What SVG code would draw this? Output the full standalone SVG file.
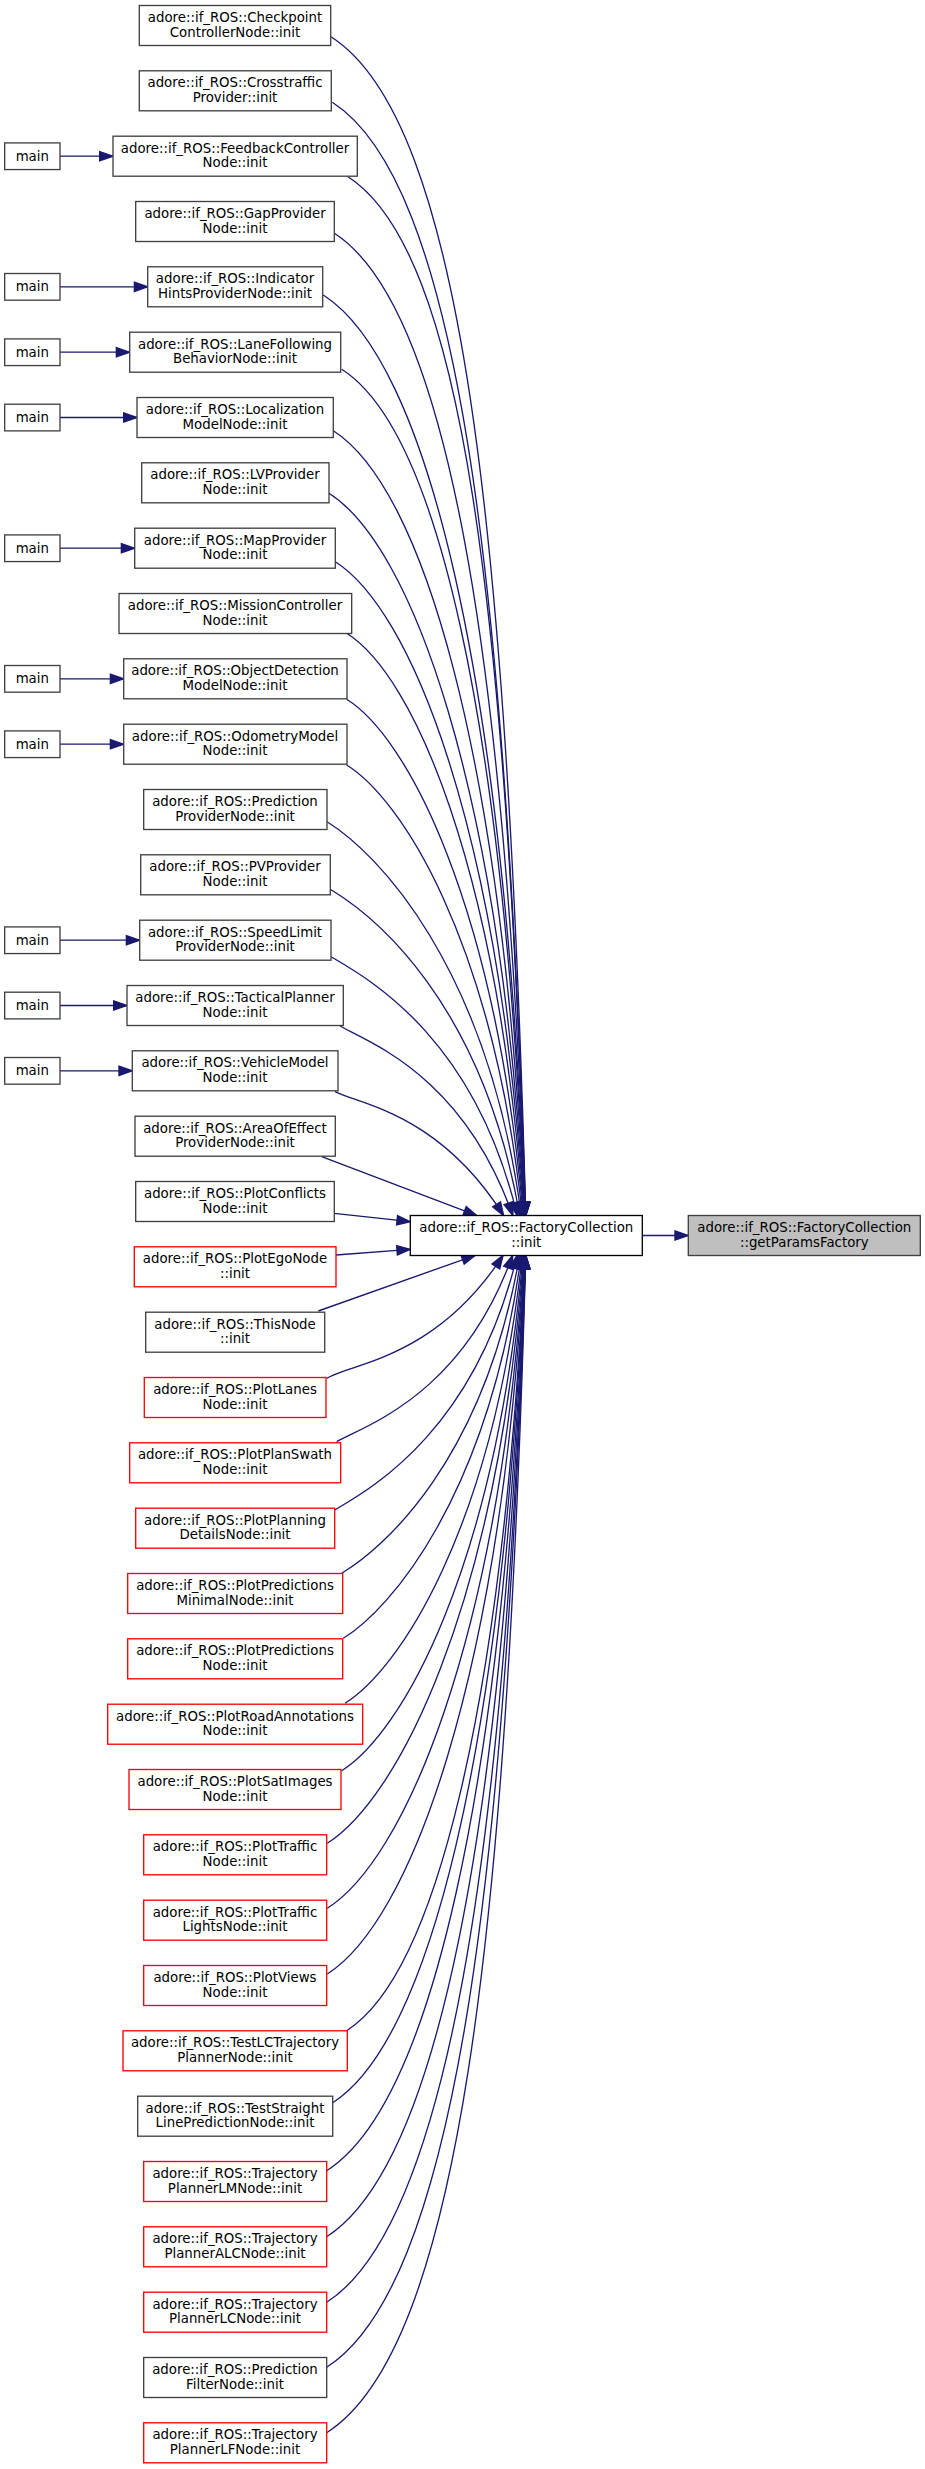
<svg xmlns="http://www.w3.org/2000/svg" width="925" height="2469" viewBox="0 0 925 2469">
<style>
.e{fill:none;stroke:#191970;stroke-width:1.33;marker-end:url(#ah)}
.n rect{fill:#fff;stroke:#404040;stroke-width:1.33}
.r rect{stroke:#ff0000}
.fc rect{stroke:#000}
.cur rect{fill:#bfbfbf}
text{font-family:"DejaVu Sans","Liberation Sans",sans-serif;font-size:13.33px;text-anchor:middle;fill:#000}
</style>
<defs>
<marker id="ah" markerWidth="16" markerHeight="12" refX="13.33" refY="4.67" orient="auto" markerUnits="userSpaceOnUse" overflow="visible">
<path d="M0,0 L13.33,4.67 L0,9.33 Z" fill="#191970" stroke="#191970" stroke-width="1.33"/>
</marker>
</defs>
<rect width="925" height="2469" fill="#fff"/>
<g id="edges">
<path class="e" d="M331,36.7 C461.8,120.6 506.5,523 525.8,1215.7"/>
<path class="e" d="M332.3,102.3 C455.9,181.7 505.1,560.6 525.7,1215.7"/>
<path class="e" d="M348,176.7 C463.3,250.7 505.3,604.7 525.6,1215.7"/>
<path class="e" d="M334.3,233.3 C443.9,303.4 504.3,635.6 525.5,1215.7"/>
<path class="e" d="M323.3,295 C426.5,361 503.4,669.4 525.3,1215.7"/>
<path class="e" d="M341.7,369.3 C436.7,429.8 502.3,713.9 525.1,1215.7"/>
<path class="e" d="M333.3,430.7 C421.9,487.1 501.2,747.7 524.9,1215.7"/>
<path class="e" d="M329,493.3 C411.2,545.4 499.6,782.4 524.6,1215.7"/>
<path class="e" d="M335.3,561.7 C410.1,609 498.1,821.7 524.3,1215.7"/>
<path class="e" d="M346.7,633.3 C413.6,675.5 496.7,863.7 523.8,1215.7"/>
<path class="e" d="M346.7,699.3 C406.8,737 494.6,900.4 523.3,1215.7"/>
<path class="e" d="M346.7,765 C400.1,798.2 492.2,936.7 522.5,1215.7"/>
<path class="e" d="M327,821.7 C375.6,851.7 487.3,963.2 521.4,1215.7"/>
<path class="e" d="M330.3,889.3 C372.3,914.8 482.2,1000.1 519.8,1215.7"/>
<path class="e" d="M331,956.7 C366.7,977.9 474.4,1035.7 517.3,1215.7"/>
<path class="e" d="M340,1026 C369,1042.5 463.2,1075.3 512.9,1215.7"/>
<path class="e" d="M335,1091.7 C359.1,1104.2 439,1112.9 503.7,1215.7"/>
<path class="e" d="M321.7,1156.7 L477,1215.7"/>
<path class="e" d="M334.3,1213.3 L410.3,1221.7"/>
<path class="e" d="M336,1255 L410.3,1249.3"/>
<path class="e" d="M318.3,1311 L475.2,1255.3"/>
<path class="e" d="M326.7,1378.3 C350.2,1363.1 435.2,1359.9 503.1,1255.3"/>
<path class="e" d="M336.7,1441.7 C365.7,1425.3 462.2,1395.2 512.6,1255.3"/>
<path class="e" d="M334.7,1510 C369.7,1489.3 474.5,1431.9 517.2,1255.3"/>
<path class="e" d="M341.7,1573.3 C382.2,1548.7 483,1463.5 519.7,1255.3"/>
<path class="e" d="M343.3,1638.3 C390.1,1609.5 488.1,1497.9 521.3,1255.3"/>
<path class="e" d="M345,1703.3 C398.1,1670.2 491.7,1533 522.4,1255.3"/>
<path class="e" d="M341.7,1770.7 C401.8,1733 494.5,1570.9 523.2,1255.3"/>
<path class="e" d="M327.3,1843.3 C395.5,1800.3 496.2,1613.8 523.8,1255.3"/>
<path class="e" d="M327.3,1908.3 C402.3,1860.9 498.1,1650 524.3,1255.3"/>
<path class="e" d="M327.3,1974 C409.1,1922.1 499.7,1686.9 524.6,1255.3"/>
<path class="e" d="M346.7,2030.7 C433.9,1975.1 501.6,1716.1 524.9,1255.3"/>
<path class="e" d="M332.7,2102.7 C428,2042 502.2,1758.8 525.1,1255.3"/>
<path class="e" d="M326.7,2170.7 C429.3,2105.1 503.5,1798.2 525.3,1255.3"/>
<path class="e" d="M326.7,2236.7 C436.4,2166.5 504.2,1835.7 525.5,1255.3"/>
<path class="e" d="M326.7,2302.3 C443.3,2227.5 505.1,1873.1 525.6,1255.3"/>
<path class="e" d="M326.7,2367.3 C450.3,2287.9 505.1,1910.2 525.7,1255.3"/>
<path class="e" d="M326.7,2432.7 C457.3,2348.9 506.5,1947.6 525.8,1255.3"/>
<path class="e" d="M642.3,1235.5 L688.3,1235.5"/>
<path class="e" d="M60,156.2 L113,156.2"/>
<path class="e" d="M60,286.8 L147.7,286.8"/>
<path class="e" d="M60,352.2 L129.7,352.2"/>
<path class="e" d="M60,417.5 L137,417.5"/>
<path class="e" d="M60,548.2 L134.7,548.2"/>
<path class="e" d="M60,678.8 L123.7,678.8"/>
<path class="e" d="M60,744.2 L123.7,744.2"/>
<path class="e" d="M60,940.2 L139.7,940.2"/>
<path class="e" d="M60,1005.5 L127,1005.5"/>
<path class="e" d="M60,1070.8 L132.3,1070.8"/>
</g>
<g id="n0" class="n"><rect x="139.3" y="5.5" width="191.4" height="40"/><text x="235" y="22">adore::if_ROS::Checkpoint</text><text x="235" y="36.7">ControllerNode::init</text></g>
<g id="n1" class="n"><rect x="139.3" y="70.8" width="192" height="40"/><text x="235" y="87.3">adore::if_ROS::Crosstraffic</text><text x="235" y="102">Provider::init</text></g>
<g id="n2" class="n"><rect x="113" y="136.2" width="244.3" height="40"/><text x="235" y="152.7">adore::if_ROS::FeedbackController</text><text x="235" y="167.4">Node::init</text></g>
<g id="n3" class="n"><rect x="135.7" y="201.5" width="198.6" height="40"/><text x="235" y="218">adore::if_ROS::GapProvider</text><text x="235" y="232.7">Node::init</text></g>
<g id="n4" class="n"><rect x="147.7" y="266.8" width="175" height="40"/><text x="235" y="283.3">adore::if_ROS::Indicator</text><text x="235" y="298">HintsProviderNode::init</text></g>
<g id="n5" class="n"><rect x="129.7" y="332.2" width="211" height="40"/><text x="235" y="348.7">adore::if_ROS::LaneFollowing</text><text x="235" y="363.4">BehaviorNode::init</text></g>
<g id="n6" class="n"><rect x="137" y="397.5" width="196.3" height="40"/><text x="235" y="414">adore::if_ROS::Localization</text><text x="235" y="428.7">ModelNode::init</text></g>
<g id="n7" class="n"><rect x="141.7" y="462.8" width="187.3" height="40"/><text x="235" y="479.3">adore::if_ROS::LVProvider</text><text x="235" y="494">Node::init</text></g>
<g id="n8" class="n"><rect x="134.7" y="528.2" width="200.6" height="40"/><text x="235" y="544.7">adore::if_ROS::MapProvider</text><text x="235" y="559.4">Node::init</text></g>
<g id="n9" class="n"><rect x="119" y="593.5" width="232.7" height="40"/><text x="235" y="610">adore::if_ROS::MissionController</text><text x="235" y="624.7">Node::init</text></g>
<g id="n10" class="n"><rect x="123.7" y="658.8" width="223.3" height="40"/><text x="235" y="675.3">adore::if_ROS::ObjectDetection</text><text x="235" y="690">ModelNode::init</text></g>
<g id="n11" class="n"><rect x="123.7" y="724.2" width="223.3" height="40"/><text x="235" y="740.7">adore::if_ROS::OdometryModel</text><text x="235" y="755.4">Node::init</text></g>
<g id="n12" class="n"><rect x="143.7" y="789.5" width="183.3" height="40"/><text x="235" y="806">adore::if_ROS::Prediction</text><text x="235" y="820.7">ProviderNode::init</text></g>
<g id="n13" class="n"><rect x="140.7" y="854.8" width="189.6" height="40"/><text x="235" y="871.3">adore::if_ROS::PVProvider</text><text x="235" y="886">Node::init</text></g>
<g id="n14" class="n"><rect x="139.7" y="920.2" width="191.3" height="40"/><text x="235" y="936.7">adore::if_ROS::SpeedLimit</text><text x="235" y="951.4">ProviderNode::init</text></g>
<g id="n15" class="n"><rect x="127" y="985.5" width="216.3" height="40"/><text x="235" y="1002">adore::if_ROS::TacticalPlanner</text><text x="235" y="1016.7">Node::init</text></g>
<g id="n16" class="n"><rect x="132.3" y="1050.8" width="205.7" height="40"/><text x="235" y="1067.3">adore::if_ROS::VehicleModel</text><text x="235" y="1082">Node::init</text></g>
<g id="n17" class="n"><rect x="135" y="1116.2" width="200.3" height="40"/><text x="235" y="1132.7">adore::if_ROS::AreaOfEffect</text><text x="235" y="1147.4">ProviderNode::init</text></g>
<g id="n18" class="n"><rect x="135.7" y="1181.5" width="198.6" height="40"/><text x="235" y="1198">adore::if_ROS::PlotConflicts</text><text x="235" y="1212.7">Node::init</text></g>
<g id="n19" class="n r"><rect x="134.3" y="1246.8" width="201.7" height="40"/><text x="235" y="1263.3">adore::if_ROS::PlotEgoNode</text><text x="235" y="1278">::init</text></g>
<g id="n20" class="n"><rect x="145.7" y="1312.2" width="179" height="40"/><text x="235" y="1328.7">adore::if_ROS::ThisNode</text><text x="235" y="1343.4">::init</text></g>
<g id="n21" class="n r"><rect x="144.3" y="1377.5" width="181.7" height="40"/><text x="235" y="1394">adore::if_ROS::PlotLanes</text><text x="235" y="1408.7">Node::init</text></g>
<g id="n22" class="n r"><rect x="129.7" y="1442.8" width="211" height="40"/><text x="235" y="1459.3">adore::if_ROS::PlotPlanSwath</text><text x="235" y="1474">Node::init</text></g>
<g id="n23" class="n r"><rect x="135.7" y="1508.2" width="199" height="40"/><text x="235" y="1524.7">adore::if_ROS::PlotPlanning</text><text x="235" y="1539.4">DetailsNode::init</text></g>
<g id="n24" class="n r"><rect x="127.7" y="1573.5" width="215" height="40"/><text x="235" y="1590">adore::if_ROS::PlotPredictions</text><text x="235" y="1604.7">MinimalNode::init</text></g>
<g id="n25" class="n r"><rect x="127.7" y="1638.8" width="215" height="40"/><text x="235" y="1655.3">adore::if_ROS::PlotPredictions</text><text x="235" y="1670">Node::init</text></g>
<g id="n26" class="n r"><rect x="107.7" y="1704.2" width="255" height="40"/><text x="235" y="1720.7">adore::if_ROS::PlotRoadAnnotations</text><text x="235" y="1735.4">Node::init</text></g>
<g id="n27" class="n r"><rect x="129" y="1769.5" width="212" height="40"/><text x="235" y="1786">adore::if_ROS::PlotSatImages</text><text x="235" y="1800.7">Node::init</text></g>
<g id="n28" class="n r"><rect x="143.7" y="1834.8" width="183" height="40"/><text x="235" y="1851.3">adore::if_ROS::PlotTraffic</text><text x="235" y="1866">Node::init</text></g>
<g id="n29" class="n r"><rect x="143.7" y="1900.2" width="183" height="40"/><text x="235" y="1916.7">adore::if_ROS::PlotTraffic</text><text x="235" y="1931.4">LightsNode::init</text></g>
<g id="n30" class="n r"><rect x="143.7" y="1965.5" width="183" height="40"/><text x="235" y="1982">adore::if_ROS::PlotViews</text><text x="235" y="1996.7">Node::init</text></g>
<g id="n31" class="n r"><rect x="123" y="2030.8" width="224.3" height="40"/><text x="235" y="2047.3">adore::if_ROS::TestLCTrajectory</text><text x="235" y="2062">PlannerNode::init</text></g>
<g id="n32" class="n"><rect x="137.7" y="2096.2" width="195" height="40"/><text x="235" y="2112.7">adore::if_ROS::TestStraight</text><text x="235" y="2127.4">LinePredictionNode::init</text></g>
<g id="n33" class="n r"><rect x="143.7" y="2161.5" width="183" height="40"/><text x="235" y="2178">adore::if_ROS::Trajectory</text><text x="235" y="2192.7">PlannerLMNode::init</text></g>
<g id="n34" class="n r"><rect x="143.7" y="2226.8" width="183" height="40"/><text x="235" y="2243.3">adore::if_ROS::Trajectory</text><text x="235" y="2258">PlannerALCNode::init</text></g>
<g id="n35" class="n r"><rect x="143.7" y="2292.2" width="183" height="40"/><text x="235" y="2308.7">adore::if_ROS::Trajectory</text><text x="235" y="2323.4">PlannerLCNode::init</text></g>
<g id="n36" class="n"><rect x="143.7" y="2357.5" width="183" height="40"/><text x="235" y="2374">adore::if_ROS::Prediction</text><text x="235" y="2388.7">FilterNode::init</text></g>
<g id="n37" class="n r"><rect x="143.7" y="2422.8" width="183" height="40"/><text x="235" y="2439.3">adore::if_ROS::Trajectory</text><text x="235" y="2454">PlannerLFNode::init</text></g>
<g id="fc" class="n fc"><rect x="410.3" y="1215.5" width="232" height="40"/><text x="526.3" y="1232">adore::if_ROS::FactoryCollection</text><text x="526.3" y="1246.7">::init</text></g>
<g id="gpf" class="n cur"><rect x="688.3" y="1215.5" width="232" height="40"/><text x="804.3" y="1232">adore::if_ROS::FactoryCollection</text><text x="804.3" y="1246.7">::getParamsFactory</text></g>
<g id="m2" class="n"><rect x="4.67" y="142.9" width="55.33" height="26.67"/><text x="32.3" y="160.5">main</text></g>
<g id="m4" class="n"><rect x="4.67" y="273.5" width="55.33" height="26.67"/><text x="32.3" y="291.1">main</text></g>
<g id="m5" class="n"><rect x="4.67" y="338.9" width="55.33" height="26.67"/><text x="32.3" y="356.5">main</text></g>
<g id="m6" class="n"><rect x="4.67" y="404.2" width="55.33" height="26.67"/><text x="32.3" y="421.8">main</text></g>
<g id="m8" class="n"><rect x="4.67" y="534.9" width="55.33" height="26.67"/><text x="32.3" y="552.5">main</text></g>
<g id="m10" class="n"><rect x="4.67" y="665.5" width="55.33" height="26.67"/><text x="32.3" y="683.1">main</text></g>
<g id="m11" class="n"><rect x="4.67" y="730.9" width="55.33" height="26.67"/><text x="32.3" y="748.5">main</text></g>
<g id="m14" class="n"><rect x="4.67" y="926.9" width="55.33" height="26.67"/><text x="32.3" y="944.5">main</text></g>
<g id="m15" class="n"><rect x="4.67" y="992.2" width="55.33" height="26.67"/><text x="32.3" y="1009.8">main</text></g>
<g id="m16" class="n"><rect x="4.67" y="1057.5" width="55.33" height="26.67"/><text x="32.3" y="1075.1">main</text></g>
</svg>
